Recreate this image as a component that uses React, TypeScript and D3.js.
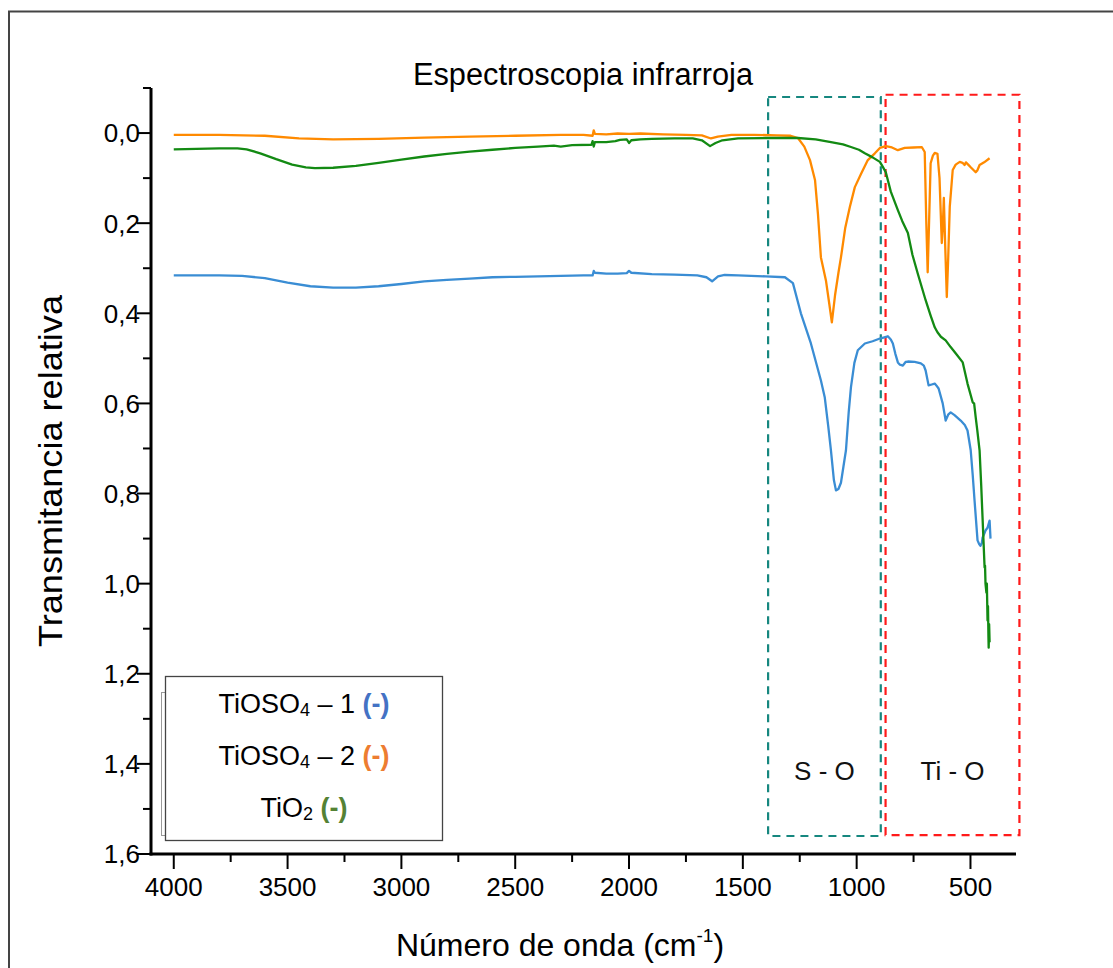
import React from "react";
import * as d3 from "d3";

// wavenumber (cm-1), relative transmittance
const tiosoOne: [number, number][] = [
  [4000, 0.316], [3800, 0.316], [3700, 0.317], [3600, 0.322], [3500, 0.332], [3400, 0.34],
  [3300, 0.343], [3200, 0.343], [3100, 0.34], [3000, 0.335], [2900, 0.329], [2800, 0.326],
  [2700, 0.323], [2600, 0.32], [2500, 0.319], [2400, 0.318], [2300, 0.317], [2200, 0.316],
  [2160, 0.316], [2155, 0.306], [2150, 0.31], [2100, 0.312], [2050, 0.312], [2010, 0.311],
  [2000, 0.306], [1990, 0.31], [1900, 0.313], [1800, 0.314], [1700, 0.316], [1660, 0.32],
  [1635, 0.329], [1609, 0.318], [1580, 0.315], [1521, 0.316], [1400, 0.318], [1315, 0.32],
  [1280, 0.333], [1245, 0.4], [1201, 0.467], [1157, 0.549], [1140, 0.587], [1125, 0.65],
  [1113, 0.704], [1100, 0.77], [1091, 0.793], [1080, 0.79], [1069, 0.776], [1058, 0.74],
  [1047, 0.704], [1035, 0.62], [1025, 0.564], [1010, 0.51], [995, 0.482], [964, 0.467],
  [930, 0.462], [898, 0.456], [863, 0.451], [850, 0.458], [841, 0.467], [830, 0.49],
  [819, 0.509], [810, 0.514], [797, 0.516], [785, 0.508], [775, 0.507], [745, 0.508],
  [718, 0.511], [705, 0.516], [697, 0.527], [684, 0.56], [670, 0.558], [657, 0.556],
  [650, 0.56], [640, 0.567], [622, 0.6], [609, 0.638], [598, 0.625], [587, 0.62],
  [570, 0.626], [543, 0.638], [525, 0.648], [513, 0.66], [499, 0.704], [490, 0.76],
  [482, 0.816], [469, 0.904], [462, 0.912], [456, 0.916], [450, 0.91], [447, 0.898],
  [440, 0.89], [434, 0.882], [425, 0.876], [416, 0.86], [412, 0.9],
];

const tiosoTwo: [number, number][] = [
  [4000, 0.004], [3800, 0.004], [3600, 0.006], [3450, 0.012], [3300, 0.014], [3100, 0.013],
  [2900, 0.01], [2700, 0.008], [2500, 0.006], [2300, 0.004], [2200, 0.004], [2160, 0.006],
  [2155, -0.006], [2150, 0.002], [2100, 0.003], [2050, 0.001], [2000, 0.002], [1950, 0.001],
  [1850, 0.003], [1750, 0.004], [1680, 0.005], [1640, 0.012], [1610, 0.008], [1550, 0.004],
  [1450, 0.004], [1350, 0.005], [1290, 0.006], [1258, 0.011], [1230, 0.03], [1205, 0.06],
  [1183, 0.104], [1170, 0.18], [1157, 0.276], [1135, 0.327], [1120, 0.38], [1109, 0.42],
  [1095, 0.36], [1080, 0.31], [1069, 0.276], [1050, 0.21], [1030, 0.164], [1008, 0.12],
  [980, 0.09], [951, 0.06], [920, 0.045], [898, 0.033], [872, 0.029], [845, 0.032],
  [819, 0.038], [789, 0.033], [750, 0.032], [714, 0.031], [701, 0.042], [694, 0.2],
  [688, 0.309], [682, 0.2], [675, 0.067], [665, 0.05], [657, 0.044], [645, 0.046],
  [636, 0.1], [626, 0.244], [621, 0.2], [617, 0.144], [611, 0.25], [604, 0.364],
  [598, 0.28], [591, 0.164], [578, 0.082], [565, 0.07], [547, 0.064], [535, 0.066],
  [526, 0.071], [520, 0.065], [510, 0.07], [499, 0.076], [477, 0.087], [470, 0.083],
  [460, 0.071], [440, 0.065], [416, 0.056],
];

const tioTwo: [number, number][] = [
  [4000, 0.036], [3900, 0.035], [3800, 0.034], [3720, 0.034], [3680, 0.036], [3620, 0.045],
  [3550, 0.058], [3480, 0.07], [3420, 0.076], [3380, 0.078], [3300, 0.077], [3200, 0.073],
  [3100, 0.066], [3000, 0.059], [2900, 0.052], [2800, 0.046], [2700, 0.041], [2600, 0.037],
  [2500, 0.033], [2400, 0.03], [2330, 0.028], [2300, 0.03], [2250, 0.027], [2165, 0.026],
  [2160, 0.018], [2155, 0.03], [2150, 0.02], [2100, 0.02], [2060, 0.018], [2040, 0.015],
  [2010, 0.014], [2000, 0.022], [1990, 0.016], [1950, 0.014], [1900, 0.013], [1800, 0.012],
  [1720, 0.012], [1680, 0.016], [1644, 0.029], [1620, 0.022], [1590, 0.016], [1521, 0.012],
  [1400, 0.011], [1258, 0.011], [1180, 0.014], [1113, 0.02], [1060, 0.025], [1025, 0.031],
  [990, 0.037], [964, 0.045], [930, 0.054], [898, 0.064], [885, 0.075], [872, 0.087],
  [850, 0.13], [819, 0.171], [800, 0.195], [775, 0.222], [755, 0.27], [732, 0.311],
  [697, 0.371], [675, 0.405], [657, 0.431], [645, 0.442], [630, 0.452], [609, 0.46],
  [587, 0.475], [560, 0.492], [534, 0.509], [513, 0.556], [490, 0.598], [484, 0.6],
  [477, 0.631], [470, 0.66], [460, 0.704], [453, 0.78], [447, 0.853], [438, 0.964],
  [436, 0.96], [434, 1.0], [430, 1.02], [428, 1.0], [425, 1.082], [423, 1.05],
  [421, 1.12], [420, 1.142], [418, 1.09], [416, 1.13],
];

const seriesColors = ["#3a8dd4", "#ff8a00", "#138a13"];
const legendColors = ["#4472c4", "#ed7d31", "#548235"];

const xMajor = [4000, 3500, 3000, 2500, 2000, 1500, 1000, 500];
const xMinor = [3750, 3250, 2750, 2250, 1750, 1250, 750];
const yMajor = [0, 0.2, 0.4, 0.6, 0.8, 1.0, 1.2, 1.4, 1.6];
const yMinor = [-0.1, 0.1, 0.3, 0.5, 0.7, 0.9, 1.1, 1.3, 1.5];

// annotation regions [from, to] in cm-1 and transmittance
const soRegion = { x0: 1389, x1: 894, y0: -0.08, y1: 1.56, label: "S - O" };
const tioRegion = { x0: 873, x1: 285, y0: -0.085, y1: 1.558, label: "Ti - O" };

const FONT = "'Liberation Sans', Arial, sans-serif";

export default function App() {
  const x = d3.scaleLinear().domain([4100, 300]).range([151, 1016]);
  const y = d3.scaleLinear().domain([-0.1, 1.6]).range([88, 854]);

  const line = d3
    .line<[number, number]>()
    .x((d) => x(d[0]))
    .y((d) => y(d[1]));

  const fmt = (v: number) => v.toFixed(1).replace(".", ",");

  const regionBox = (r: typeof soRegion, color: string) => (
    <g>
      <rect
        x={x(r.x0)}
        y={y(r.y0)}
        width={x(r.x1) - x(r.x0)}
        height={y(r.y1) - y(r.y0)}
        fill="none"
        stroke={color}
        strokeWidth={2.2}
        strokeDasharray="8 6"
      />
      <text
        x={(x(r.x0) + x(r.x1)) / 2}
        y={y(1.435)}
        textAnchor="middle"
        fontSize={26}
        fill="#111"
      >
        {r.label}
      </text>
    </g>
  );

  return (
    <svg
      width={1113}
      height={968}
      style={{ position: "absolute", left: 0, top: 0, fontFamily: FONT, background: "#fff" }}
    >
      <rect x={9} y={11.5} width={1200} height={1000} fill="#fff" stroke="#444" strokeWidth={2} />

      <text x={583} y={85} textAnchor="middle" fontSize={31} fill="#000" textLength={340} lengthAdjust="spacingAndGlyphs">
        Espectroscopia infrarroja
      </text>

      {regionBox(soRegion, "#16877f")}
      {regionBox(tioRegion, "#ff1a1a")}

      {[tiosoOne, tiosoTwo, tioTwo].map((s, i) => (
        <path key={i} d={line(s) ?? ""} fill="none" stroke={seriesColors[i]} strokeWidth={2.3} strokeLinejoin="round" />
      ))}

      {/* axes */}
      <line x1={x(4100)} x2={x(4100)} y1={y(-0.1)} y2={y(1.6) + 1.5} stroke="#000" strokeWidth={3} />
      <line x1={x(4100) - 1.5} x2={x(300)} y1={y(1.6)} y2={y(1.6)} stroke="#000" strokeWidth={3} />

      {yMajor.map((v) => (
        <g key={"ym" + v}>
          <line x1={x(4100) - 14} x2={x(4100)} y1={y(v)} y2={y(v)} stroke="#000" strokeWidth={2} />
          <text x={140} y={y(v)} dy="0.36em" textAnchor="end" fontSize={26} fill="#000">
            {fmt(v)}
          </text>
        </g>
      ))}
      {yMinor.map((v) => (
        <line key={"yn" + v} x1={x(4100) - 8} x2={x(4100)} y1={y(v)} y2={y(v)} stroke="#000" strokeWidth={2} />
      ))}

      {xMajor.map((v) => (
        <g key={"xm" + v}>
          <line x1={x(v)} x2={x(v)} y1={y(1.6)} y2={y(1.6) + 15} stroke="#000" strokeWidth={2} />
          <text x={x(v)} y={896} textAnchor="middle" fontSize={26} fill="#000">
            {v}
          </text>
        </g>
      ))}
      {xMinor.map((v) => (
        <line key={"xn" + v} x1={x(v)} x2={x(v)} y1={y(1.6)} y2={y(1.6) + 8} stroke="#000" strokeWidth={2} />
      ))}

      <text x={560} y={956} textAnchor="middle" fontSize={32} fill="#000">
        Número de onda (cm
        <tspan fontSize={19} dy={-14}>-1</tspan>
        <tspan dy={14}>)</tspan>
      </text>

      <text
        transform={`translate(62,${(y(-0.1) + y(1.6)) / 2}) rotate(-90)`}
        textAnchor="middle"
        fontSize={33}
        fill="#000"
        textLength={352}
        lengthAdjust="spacingAndGlyphs"
      >
        Transmitancia relativa
      </text>

      {/* legend */}
      <rect x={161.5} y={692.5} width={280} height={143} fill="#fff" stroke="#999" strokeWidth={1} />
      <rect x={165.5} y={676.5} width={277} height={164} fill="#fff" stroke="#444" strokeWidth={1.3} />
      {[
        { name: "TiOSO", sub: "4", tail: " – 1 " },
        { name: "TiOSO", sub: "4", tail: " – 2 " },
        { name: "TiO", sub: "2", tail: " " },
      ].map((l, i) => (
        <text key={i} x={304} y={713 + i * 52} textAnchor="middle" fontSize={27} fill="#000">
          {l.name}
          <tspan fontSize={18} dy={3}>{l.sub}</tspan>
          <tspan dy={-3}>{l.tail}</tspan>
          <tspan fontWeight="bold" fill={legendColors[i]}>(-)</tspan>
        </text>
      ))}
    </svg>
  );
}
